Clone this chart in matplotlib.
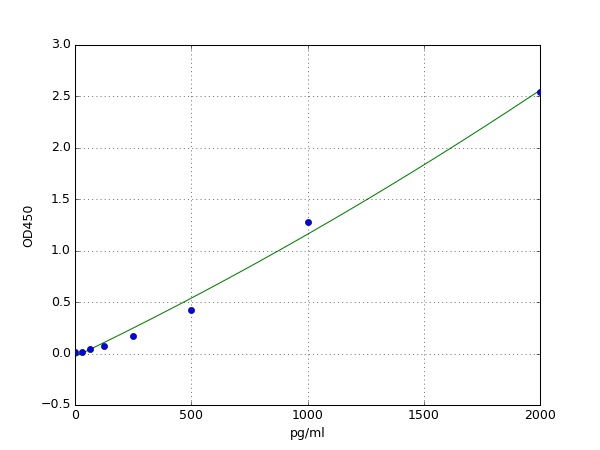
import numpy as np
import matplotlib
matplotlib.use("Agg")
import matplotlib.pyplot as plt

plt.style.use("classic")

conc = [0, 31.25, 62.5, 125, 250, 500, 1000, 2000]
od = [0.02, 0.02, 0.045, 0.07, 0.17, 0.42, 1.28, 2.54]
# fitted curve coefficients (quadratic, highest power first)
fit_coef = [1.05e-7, 1.085e-3, -0.03]

fig = plt.figure(figsize=(8, 6), dpi=75)
ax = fig.add_subplot(111)
xs = np.linspace(0, 2000, 200)
ax.plot(xs, np.polyval(fit_coef, xs), color="g", lw=1)
ax.plot(conc, od, "bo", markersize=6, zorder=3)
ax.set_xlim(0, 2000)
ax.set_ylim(-0.5, 3.0)
ax.set_xticks([0, 500, 1000, 1500, 2000])
ax.set_yticks(np.arange(-0.5, 3.01, 0.5))
ax.grid(True)
ax.set_xlabel("pg/ml")
ax.set_ylabel("OD450")
fig.savefig("out.png", dpi=75)
